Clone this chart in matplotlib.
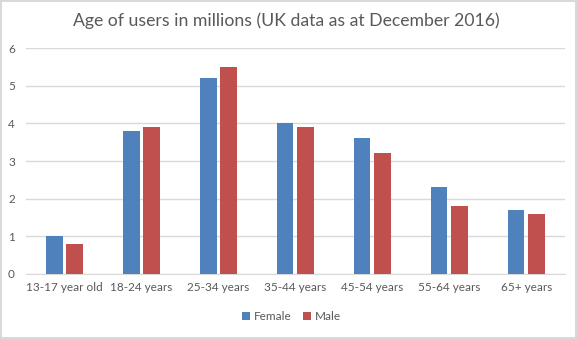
import matplotlib

matplotlib.use("Agg")
import matplotlib.pyplot as plt
import numpy as np

CATEGORIES = ["13-17 year old", "18-24 years", "25-34 years", "35-44 years",
              "45-54 years", "55-64 years", "65+ years"]
FEMALE = [1.0, 3.8, 5.2, 4.0, 3.6, 2.3, 1.7]
MALE = [0.8, 3.9, 5.5, 3.9, 3.2, 1.8, 1.6]
Y_TICKS = [0, 1, 2, 3, 4, 5, 6]

TEXT = "#595959"
GRID = "#D9D9D9"

plt.rcParams["font.family"] = ["Lato", "DejaVu Sans"]

fig = plt.figure(figsize=(5.77, 3.39), dpi=100)
fig.patch.set_edgecolor(GRID)
fig.patch.set_linewidth(1.5)
ax = fig.add_axes([0.045, 0.192, 0.934, 0.666])

x = np.arange(len(CATEGORIES))
width = 0.22
ax.bar(x - 0.135, FEMALE, width, color="#4F81BD", label="Female", zorder=3)
ax.bar(x + 0.135, MALE, width, color="#C0504D", label="Male", zorder=3)

ax.set_xlim(-0.5, len(CATEGORIES) - 0.5)
ax.set_ylim(0, 6)
ax.set_yticks(Y_TICKS)
ax.set_xticks(x)
ax.set_xticklabels(CATEGORIES)
ax.tick_params(length=0, colors=TEXT, labelsize=8.5)
ax.tick_params(axis="y", pad=8)
ax.tick_params(axis="x", pad=6)
ax.yaxis.grid(True, color=GRID, linewidth=1, zorder=0)
for side in ["top", "right", "left"]:
    ax.spines[side].set_visible(False)
ax.spines["bottom"].set_color(GRID)

fig.text(0.497, 0.94, "Age of users in millions (UK data as at December 2016)",
         ha="center", va="center", fontsize=12.7, color=TEXT)
fig.legend(loc="center", bbox_to_anchor=(0.505, 0.067), ncol=2, frameon=False,
           fontsize=8.5, labelcolor=TEXT, handlelength=0.7, handleheight=0.7,
           handletextpad=0.3, columnspacing=1.0)

fig.savefig("out.png", dpi=100)
